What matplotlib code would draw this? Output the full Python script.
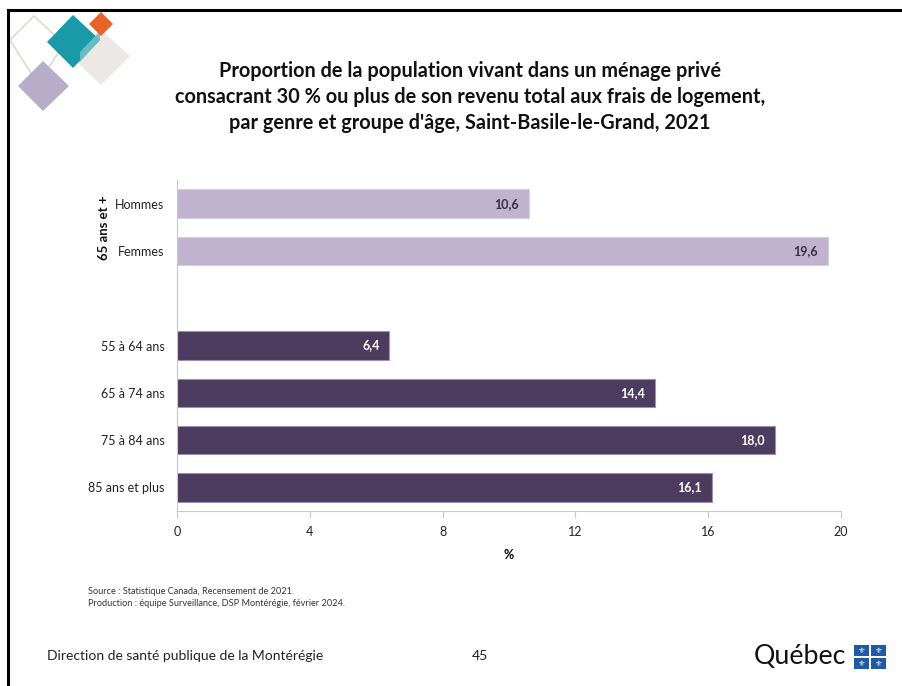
import matplotlib.pyplot as plt
from matplotlib.patches import Polygon, Rectangle
from matplotlib.lines import Line2D

plt.rcParams['font.family'] = ['Lato', 'DejaVu Sans']

# data
sexe_labels = ["Hommes", "Femmes"]
sexe_values = [10.6, 19.6]
age_labels = ["55 à 64 ans", "65 à 74 ans", "75 à 84 ans", "85 ans et plus"]
age_values = [6.4, 14.4, 18.0, 16.1]
x_ticks = [0, 4, 8, 12, 16, 20]

light = "#c0b3d0"
dark = "#4d3b60"

W, H = 902, 686
fig = plt.figure(figsize=(W / 100, H / 100), dpi=100)

def fx(px):
    return px / W

def fy(py):
    return 1 - py / H

# slide frame (top and left edges)
fig.add_artist(Line2D([fx(8), 1], [fy(10), fy(10)], color="black", lw=2.2))
fig.add_artist(Line2D([fx(8), fx(8)], [fy(10), 0], color="black", lw=2.2))

# logo diamonds
def diamond(pts, **kw):
    fig.add_artist(Polygon([(fx(x), fy(y)) for x, y in pts], closed=True,
                           transform=fig.transFigure, **kw))

diamond([(10, 40), (34, 16), (64, 44), (38, 84)], facecolor="none",
        edgecolor="#d8ddd0", lw=1.2)
diamond([(73, 58), (101, 30), (130, 56), (101, 85)], facecolor="#ece8e6",
        edgecolor="none")
diamond([(47, 42), (73, 15), (100, 40), (73, 68)], facecolor="#1a9aa8",
        edgecolor="none")
diamond([(80, 52), (100, 31), (100, 40), (80, 62)], facecolor="#6fc0c6",
        edgecolor="none", alpha=0.9)
diamond([(89, 24), (101, 12), (113, 24), (101, 36)], facecolor="#e8632a",
        edgecolor="none")
diamond([(18, 86), (43, 61), (69, 86), (43, 111)], facecolor="#b7adc9",
        edgecolor="none")

# title
fig.text(fx(470), fy(97),
         "Proportion de la population vivant dans un ménage privé\n"
         "consacrant 30 % ou plus de son revenu total aux frais de logement,\n"
         "par genre et groupe d'âge, Saint-Basile-le-Grand, 2021",
         ha="center", va="center", fontsize=14.3, fontweight="bold",
         linespacing=1.35, color="#111111")

ax = fig.add_axes([fx(177), fy(511), fx(841) - fx(177), fy(180) - fy(511)])

labels = sexe_labels + [""] + age_labels
pos_sexe = [0, 1]
pos_age = [3, 4, 5, 6]

b1 = ax.barh(pos_sexe, sexe_values, height=0.6, color=light,
             edgecolor="#d6cde0", lw=0.8)
b2 = ax.barh(pos_age, age_values, height=0.6, color=dark,
             edgecolor="#9e92ae", lw=0.8)

for bar, v in zip(b1, sexe_values):
    ax.annotate(f"{v:.1f}".replace(".", ","), (v, bar.get_y() + bar.get_height() / 2),
                xytext=(-7, 0), textcoords="offset points", ha="right", va="center",
                fontsize=9, fontweight="bold", color="#3a2e48")
for bar, v in zip(b2, age_values):
    ax.annotate(f"{v:.1f}".replace(".", ","), (v, bar.get_y() + bar.get_height() / 2),
                xytext=(-7, 0), textcoords="offset points", ha="right", va="center",
                fontsize=9, fontweight="bold", color="white")

ax.set_ylim(6.5, -0.5)
ax.set_xlim(0, 20)
ax.set_yticks(range(7))
ax.set_yticklabels(labels, fontsize=9, color="#222222")
ax.tick_params(axis="y", length=0, pad=9)
ax.set_xticks(x_ticks)
ax.set_xticklabels([str(t) for t in x_ticks], fontsize=9, color="#222222")
ax.tick_params(axis="x", length=5, color="#c8c8c8", direction="out", pad=6)
ax.set_xlabel("%", fontsize=9, fontweight="bold", labelpad=8)
for s in ["top", "right"]:
    ax.spines[s].set_visible(False)
ax.spines["left"].set_color("#c8c8c8")
ax.spines["bottom"].set_color("#c8c8c8")

fig.text(fx(104), fy(228), "65 ans et +", rotation=90, ha="center", va="center",
         fontsize=9.5, fontweight="bold", color="#111111")

# source
fig.text(fx(88), fy(591), "Source : Statistique Canada, Recensement de 2021.",
         fontsize=6.6, va="center", color="#333333")
fig.text(fx(88), fy(603), "Production : équipe Surveillance, DSP Montérégie, février 2024.",
         fontsize=6.6, va="center", color="#333333")

# footer
fig.text(fx(47), fy(656), "Direction de santé publique de la Montérégie",
         fontsize=10, va="center", color="#222222")
fig.text(fx(480), fy(656), "45", fontsize=10, va="center", ha="center", color="#222222")
fig.text(fx(754), fy(657), "Québec", fontsize=19.3, va="center", ha="left",
         color="#111111")

blue = "#1f5aa6"
for (x0, y0) in [(854, 645), (871, 645), (854, 658), (871, 658)]:
    fig.add_artist(Rectangle((fx(x0), fy(y0 + 11)), fx(15), 11 / H,
                             transform=fig.transFigure, facecolor=blue, edgecolor="none"))
    fig.text(fx(x0 + 7.5), fy(y0 + 5.5), "\u269c", fontsize=6, color="white",
             ha="center", va="center", family=["DejaVu Sans"])

fig.savefig("out.png", dpi=100)
